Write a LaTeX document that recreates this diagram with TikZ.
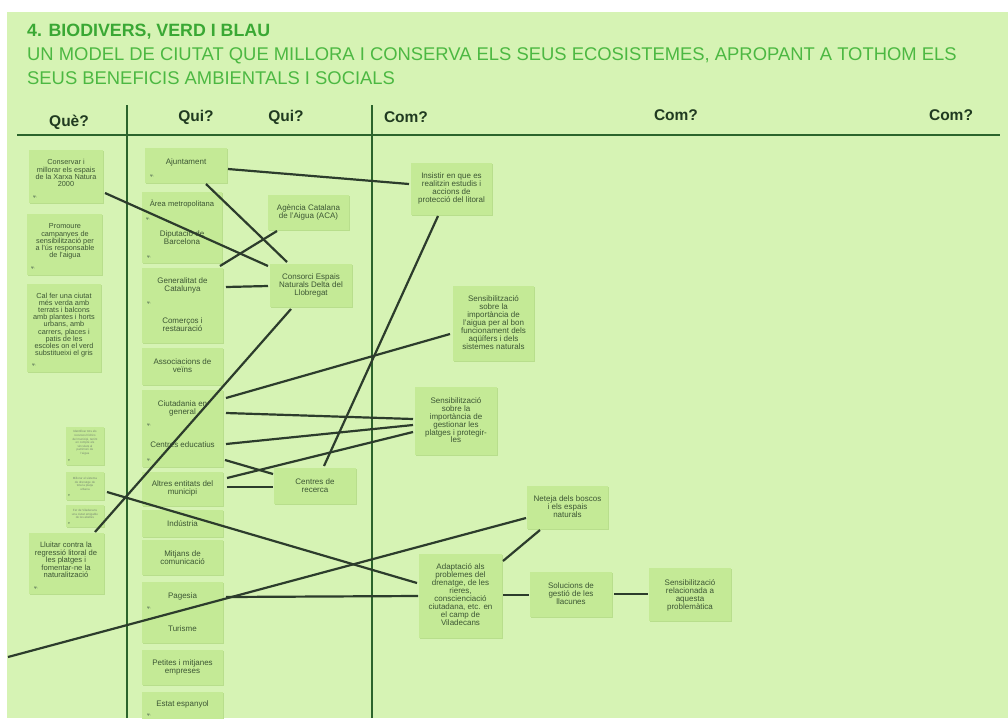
\documentclass[tikz,border=0pt]{standalone}
\usepackage{fontspec}
\setmainfont{Liberation Sans}
\newfontfamily\dejavu{DejaVu Sans}
\usetikzlibrary{calc}
\definecolor{bg}{RGB}{214,243,180}
\definecolor{note}{RGB}{196,234,150}
\definecolor{noteshadow}{RGB}{184,222,140}
\definecolor{notetext}{RGB}{60,86,52}
\definecolor{connc}{RGB}{44,60,44}
\definecolor{gridc}{RGB}{44,100,44}
\definecolor{hdrc}{RGB}{32,58,32}
\definecolor{titlec}{RGB}{58,168,52}
\definecolor{subc}{RGB}{76,184,66}
\definecolor{heartc}{RGB}{120,150,105}
\tikzset{
  notebox/.style={fill=note, inner sep=0pt, outer sep=0pt, draw=none},
  ntext/.style={text=notetext, align=center, inner sep=0pt, font=\fontsize{8}{8}\selectfont},
  ltext/.style={text=notetext, align=center, inner sep=0pt, font=\fontsize{7.3}{7.2}\selectfont},
  ttext/.style={text=notetext!70, align=center, inner sep=0pt, font=\fontsize{3}{3.6}\selectfont},
  conn/.style={draw=connc, line width=2.2pt},
  gridline/.style={draw=gridc, line width=2.2pt},
  hdr/.style={text=hdrc, inner sep=0pt, font=\fontsize{15.5}{16}\selectfont\bfseries},
  heart/.style={text=heartc, inner sep=0pt, font=\dejavu\fontsize{3.6}{4}\selectfont}
}
\newcommand\notebox[5]{%
  \fill[noteshadow] (#2+0.8,#3+1.2) rectangle (#4+0.8,#5+1.2);
  \node[notebox, minimum width={#4pt-#2pt}, minimum height={#5pt-#3pt}] (#1) at ({(#2+#4)/2},{(#3+#5)/2}) {};}
\begin{document}
\begin{tikzpicture}[x=1pt,y=-1pt]
\useasboundingbox (0,0) rectangle (1008,718);
\clip (0,0) rectangle (1008,718);
\fill[white] (0,0) rectangle (1008,718);
\fill[bg] (7,12) rectangle (1008,718);

% titles
\node[anchor=west, inner sep=0pt, text=titlec, font=\fontsize{17.8}{18}\selectfont\bfseries] (title) at (27,32) {4. BIODIVERS, VERD I BLAU};
\node[anchor=west, inner sep=0pt, text=subc, font=\fontsize{18.4}{19}\selectfont] (sub1) at (27,56) {UN MODEL DE CIUTAT QUE MILLORA I CONSERVA ELS SEUS ECOSISTEMES, APROPANT A TOTHOM ELS};
\node[anchor=west, inner sep=0pt, text=subc, font=\fontsize{18.4}{19}\selectfont] (sub2) at (27,78) {SEUS BENEFICIS AMBIENTALS I SOCIALS};

% headers
\node[hdr] (h1) at (69,122) {Què?};
\node[hdr] (h2) at (196,117) {Qui?};
\node[hdr] (h3) at (286,117) {Qui?};
\node[hdr] (h4) at (406,117) {Com?};
\node[hdr] (h5) at (676,115) {Com?};
\node[hdr] (h6) at (951,115) {Com?};

% grid
\draw[gridline] (17,135) -- (1000,135);
\draw[gridline] (127,105) -- (127,718);
\draw[gridline] (372,105) -- (372,718);

% Què column
\notebox{conservar}{29}{150}{103}{203}
\node[ltext] (conservar-t) at (66,173) {Conservar i\\millorar els espais\\de la Xarxa Natura\\2000};
\notebox{promoure}{27}{214}{102}{275}
\node[ltext] (promoure-t) at (65,241.5) {Promoure\\campanyes de\\sensibilització per\\a l'ús responsable\\de l'aigua};
\notebox{calfer}{27}{284}{101}{372}
\node[ltext] (calfer-t) at (64,325) {Cal fer una ciutat\\més verda amb\\terrats i balcons\\amb plantes i horts\\urbans, amb\\carrers, places i\\patis de les\\escoles on el verd\\substitueixi el gris};
\notebox{tinya}{66}{427}{104}{465}
\node[ttext] (tinya-t) at (85,443) {Identificar tots els\\recursos hídrics\\del municipi, tenint\\en compte els\\vinculats al\\patrimoni de\\l'aigua};
\notebox{tinyb}{66}{472}{104}{500}
\node[ttext] (tinyb-t) at (85,484) {Millorar el sistema\\de drenatge de\\tota la platja\\urbana};
\notebox{tinyc}{66}{505}{104}{527}
\node[ttext] (tinyc-t) at (85,514) {Fer de Viladecans\\una ciutat amigable\\de les abelles};
\notebox{lluitar}{29}{533}{104}{594}
\node[ltext, font=\fontsize{7.6}{7.5}\selectfont] (lluitar-t) at (66,560) {Lluitar contra la\\regressió litoral de\\les platges i\\fomentar-ne la\\naturalització};

% Qui column
\notebox{aj}{145}{148}{227}{183}
\node[ntext] (aj-t) at (186,162) {Ajuntament};
\notebox{area}{142}{192}{222}{240}
\notebox{dip}{142}{222}{222}{263}
\node[ntext, font=\fontsize{7.6}{8}\selectfont] (area-t) at (182,204) {Àrea metropolitana};
\node[ntext] (dip-t) at (182,238) {Diputació de\\Barcelona};
\notebox{gen}{142}{268}{223}{310}
\notebox{com}{142}{306}{223}{343}
\node[ntext] (gen-t) at (182.5,285.5) {Generalitat de\\Catalunya};
\node[ntext] (com-t) at (182.5,324.5) {Comerços i\\restauració};
\notebox{assoc}{142}{348}{223}{385}
\node[ntext] (assoc-t) at (182.5,366) {Associacions de\\veïns};
\notebox{ciut}{142}{390}{223}{432}
\notebox{ced}{142}{428}{223}{467}
\node[ntext] (ciut-t) at (182.5,408) {Ciutadania en\\general};
\node[ntext] (ced-t) at (182.5,445) {Centres educatius};
\notebox{altres}{142}{472}{223}{506}
\node[ntext] (altres-t) at (182.5,488.5) {Altres entitats del\\municipi};
\notebox{ind}{142}{510}{223}{537}
\node[ntext] (ind-t) at (182.5,524) {Indústria};
\notebox{mit}{142}{540}{223}{575}
\node[ntext] (mit-t) at (182.5,558) {Mitjans de\\comunicació};
\notebox{pag}{142}{582}{223}{615}
\notebox{tur}{142}{612}{223}{643}
\node[ntext] (pag-t) at (182.5,596) {Pagesia};
\node[ntext] (tur-t) at (182.5,629) {Turisme};
\notebox{pet}{142}{650}{223}{685}
\node[ntext] (pet-t) at (182.5,667.5) {Petites i mitjanes\\empreses};
\notebox{estat}{142}{692}{223}{730}
\node[ntext] (estat-t) at (182.5,704) {Estat espanyol};

% second Qui column
\notebox{aca}{268}{195}{349}{230}
\node[ntext] (aca-t) at (308.5,212.5) {Agència Catalana\\de l'Aigua (ACA)};
\notebox{consorci}{270}{264}{352}{307}
\node[ntext] (consorci-t) at (311,285.5) {Consorci Espais\\Naturals Delta del\\Llobregat};
\notebox{rec}{274}{468}{356}{504}
\node[ntext] (rec-t) at (315,486) {Centres de\\recerca};

% Com column
\notebox{ins}{411}{163}{492}{215}
\node[ntext] (ins-t) at (451.5,188) {Insistir en que es\\realitzin estudis i\\accions de\\protecció del litoral};
\notebox{saig}{453}{286}{534}{361}
\node[ntext] (saig-t) at (493.5,322.5) {Sensibilització\\sobre la\\importància de\\l'aigua per al bon\\funcionament dels\\aqüífers i dels\\sistemes naturals};
\notebox{spla}{415}{387}{497}{455}
\node[ntext, font=\fontsize{8}{7.8}\selectfont] (spla-t) at (456,420.5) {Sensibilització\\sobre la\\importància de\\gestionar les\\platges i protegir-\\les};
\notebox{net}{527}{486}{608}{529}
\node[ntext] (net-t) at (567.5,507) {Neteja dels boscos\\i els espais\\naturals};
\notebox{adap}{419}{554}{502}{638}
\node[ntext] (adap-t) at (460.5,595) {Adaptació als\\problemes del\\drenatge, de les\\rieres,\\conscienciació\\ciutadana, etc. en\\el camp de\\Viladecans};
\notebox{sol}{530}{572}{612}{617}
\node[ntext] (sol-t) at (571,594) {Solucions de\\gestió de les\\llacunes};
\notebox{srel}{649}{568}{731}{621}
\node[ntext] (srel-t) at (690,595) {Sensibilització\\relacionada a\\aquesta\\problemàtica};

% like marks
\node[heart] (hv1) at (35,197) {♥:};
\node[heart] (hv2) at (33,268) {♥:};
\node[heart] (hv3) at (34,365) {♥:};
\node[heart] (hv4) at (36,588) {♥:};
\node[heart] (hv5) at (152,176) {♥:};
\node[heart] (hv6) at (148,219) {♥:};
\node[heart] (hv7) at (149,257) {♥:};
\node[heart] (hv8) at (149,303) {♥:};
\node[heart] (hv9) at (149,425) {♥:};
\node[heart] (hv10) at (149,460) {♥:};
\node[heart] (hv11) at (149,608) {♥:};
\node[heart] (hv12) at (149,715) {♥:};
\node[heart, font=\dejavu\fontsize{2.5}{3}\selectfont] (hv13) at (69,461) {♥};
\node[heart, font=\dejavu\fontsize{2.5}{3}\selectfont] (hv14) at (69,496) {♥};
\node[heart, font=\dejavu\fontsize{2.5}{3}\selectfont] (hv15) at (69,524) {♥};

% connectors
\coordinate (free) at (8,657);
\draw[conn] ($(aj.north west)+(83,21)$) -- ($(ins.north west)+(-2,21)$);
\draw[conn] ($(aj.north west)+(61,36)$) -- ($(consorci.north west)+(17,-2)$);
\draw[conn] ($(conservar.north west)+(76,43)$) -- ($(consorci.north west)+(-2,2)$);
\draw[conn] ($(gen.north west)+(78,-2)$) -- ($(aca.north west)+(9,36)$);
\draw[conn] ($(gen.north west)+(84,19)$) -- ($(consorci.north west)+(-2,22)$);
\draw[conn] ($(consorci.north west)+(21,45)$) -- ($(lluitar.north west)+(66,-1)$);
\draw[conn] ($(ciut.north west)+(84,8)$) -- ($(saig.north west)+(-3,48)$);
\draw[conn] ($(ciut.north west)+(84,23)$) -- ($(spla.north west)+(-2,32)$);
\draw[conn] ($(ced.north west)+(84,16)$) -- ($(spla.north west)+(-2,38)$);
\draw[conn] ($(altres.north west)+(85,6)$) -- ($(spla.north west)+(-2,45)$);
\draw[conn] ($(ced.north west)+(83,32)$) -- ($(rec.north west)+(-1,6)$);
\draw[conn] ($(altres.north west)+(85,15)$) -- ($(rec.north west)+(-1,19)$);
\draw[conn] ($(rec.north west)+(50,-2)$) -- ($(ins.north west)+(27,53)$);
\draw[conn] ($(tinyb.north west)+(41,20)$) -- ($(adap.north west)+(-2,29)$);
\draw[conn] ($(pag.north west)+(84,15)$) -- ($(adap.north west)+(-1,42)$);
\draw[conn] (free) -- ($(net.north west)+(-1,32)$);
\draw[conn] ($(adap.north west)+(84,7)$) -- ($(net.north west)+(13,44)$);
\draw[conn] ($(adap.north west)+(84,41)$) -- ($(sol.north west)+(-1,23)$);
\draw[conn] ($(sol.north west)+(84,22)$) -- ($(srel.north west)+(-1,26)$);
\end{tikzpicture}
\end{document}
